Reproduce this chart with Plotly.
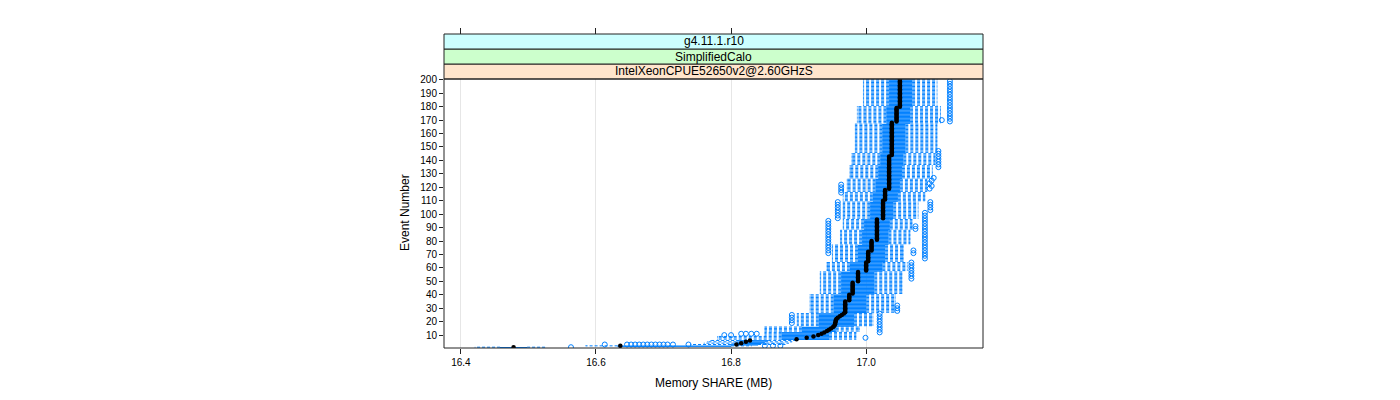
import plotly.graph_objects as go

# ---------------- data ----------------
events = list(range(1, 201))

lower_whisker = [
    16.421, 16.585, 16.740, 16.760, 16.765, 16.770, 16.780, 16.780, 16.780, 16.850,
    16.850, 16.850, 16.850, 16.850, 16.850, 16.850, 16.898, 16.898, 16.898, 16.898,
    16.898, 16.898, 16.898, 16.898, 16.898, 16.898, 16.917, 16.917, 16.917, 16.917,
    16.917, 16.917, 16.917, 16.917, 16.917, 16.917, 16.917, 16.917, 16.917, 16.917,
    16.932, 16.932, 16.932, 16.932, 16.932, 16.932, 16.932, 16.932, 16.932, 16.932,
    16.932, 16.932, 16.932, 16.932, 16.932, 16.932, 16.932, 16.942, 16.942, 16.942,
    16.942, 16.942, 16.942, 16.942, 16.950, 16.950, 16.950, 16.950, 16.950, 16.950,
    16.950, 16.950, 16.950, 16.950, 16.950, 16.950, 16.950, 16.962, 16.962, 16.962,
    16.962, 16.962, 16.962, 16.962, 16.962, 16.962, 16.962, 16.962, 16.966, 16.966,
    16.966, 16.966, 16.966, 16.966, 16.966, 16.966, 16.966, 16.966, 16.966, 16.966,
    16.966, 16.966, 16.966, 16.966, 16.966, 16.966, 16.966, 16.966, 16.966, 16.966,
    16.966, 16.966, 16.966, 16.966, 16.966, 16.966, 16.972, 16.972, 16.972, 16.972,
    16.972, 16.972, 16.972, 16.972, 16.972, 16.972, 16.976, 16.976, 16.976, 16.976,
    16.976, 16.976, 16.976, 16.976, 16.976, 16.976, 16.979, 16.979, 16.979, 16.979,
    16.979, 16.979, 16.979, 16.979, 16.979, 16.984, 16.984, 16.984, 16.984, 16.984,
    16.984, 16.984, 16.984, 16.984, 16.984, 16.984, 16.984, 16.984, 16.984, 16.984,
    16.984, 16.984, 16.984, 16.984, 16.984, 16.984, 16.984, 16.987, 16.987, 16.987,
    16.987, 16.987, 16.987, 16.987, 16.987, 16.987, 16.987, 16.987, 16.987, 16.987,
    16.996, 16.996, 16.996, 16.996, 16.996, 16.996, 16.996, 16.996, 16.996, 16.996,
    16.996, 16.996, 16.996, 16.996, 16.996, 16.996, 16.996, 16.996, 16.996, 16.996,
]

quartile1 = [
    16.458, 16.632, 16.800, 16.805, 16.808, 16.812, 16.875, 16.875, 16.875, 16.875,
    16.875, 16.875, 16.905, 16.905, 16.905, 16.905, 16.930, 16.930, 16.930, 16.930,
    16.930, 16.930, 16.930, 16.930, 16.930, 16.930, 16.952, 16.952, 16.952, 16.952,
    16.952, 16.952, 16.952, 16.952, 16.952, 16.952, 16.952, 16.952, 16.952, 16.952,
    16.963, 16.963, 16.963, 16.963, 16.963, 16.963, 16.963, 16.963, 16.963, 16.963,
    16.963, 16.963, 16.963, 16.963, 16.963, 16.963, 16.963, 16.976, 16.976, 16.976,
    16.976, 16.976, 16.976, 16.976, 16.988, 16.988, 16.988, 16.988, 16.988, 16.988,
    16.988, 16.988, 16.988, 16.988, 16.988, 16.988, 16.988, 16.994, 16.994, 16.994,
    16.994, 16.994, 16.994, 16.994, 16.994, 16.994, 16.994, 16.994, 16.997, 16.997,
    16.997, 16.997, 16.997, 16.997, 16.997, 16.997, 17.006, 17.006, 17.006, 17.006,
    17.006, 17.006, 17.006, 17.006, 17.006, 17.006, 17.006, 17.006, 17.006, 17.010,
    17.010, 17.010, 17.010, 17.010, 17.010, 17.010, 17.014, 17.014, 17.014, 17.014,
    17.014, 17.014, 17.014, 17.014, 17.014, 17.014, 17.018, 17.018, 17.018, 17.018,
    17.018, 17.018, 17.018, 17.018, 17.018, 17.018, 17.021, 17.021, 17.021, 17.021,
    17.021, 17.021, 17.021, 17.021, 17.021, 17.024, 17.024, 17.024, 17.024, 17.024,
    17.024, 17.024, 17.024, 17.024, 17.024, 17.024, 17.024, 17.024, 17.024, 17.024,
    17.024, 17.024, 17.024, 17.024, 17.024, 17.024, 17.024, 17.030, 17.030, 17.030,
    17.030, 17.030, 17.030, 17.030, 17.030, 17.030, 17.030, 17.030, 17.030, 17.030,
    17.034, 17.034, 17.034, 17.034, 17.034, 17.034, 17.034, 17.034, 17.034, 17.034,
    17.034, 17.034, 17.034, 17.034, 17.034, 17.034, 17.034, 17.034, 17.034, 17.034,
]

median = [
    16.478, 16.636, 16.808, 16.815, 16.822, 16.828, 16.897, 16.912, 16.922, 16.929,
    16.934, 16.938, 16.942, 16.945, 16.948, 16.951, 16.953, 16.954, 16.954, 16.955,
    16.955, 16.956, 16.958, 16.961, 16.964, 16.967, 16.969, 16.969, 16.969, 16.969,
    16.969, 16.969, 16.969, 16.969, 16.969, 16.975, 16.975, 16.975, 16.975, 16.975,
    16.980, 16.980, 16.980, 16.980, 16.980, 16.980, 16.980, 16.980, 16.980, 16.988,
    16.988, 16.988, 16.988, 16.988, 16.988, 16.988, 16.988, 17.000, 17.000, 17.000,
    17.000, 17.000, 17.000, 17.000, 17.003, 17.003, 17.003, 17.003, 17.003, 17.003,
    17.003, 17.003, 17.008, 17.008, 17.008, 17.008, 17.008, 17.008, 17.008, 17.008,
    17.016, 17.016, 17.016, 17.016, 17.016, 17.016, 17.016, 17.016, 17.016, 17.016,
    17.016, 17.016, 17.016, 17.016, 17.016, 17.016, 17.025, 17.025, 17.025, 17.025,
    17.025, 17.025, 17.025, 17.025, 17.025, 17.025, 17.025, 17.025, 17.025, 17.025,
    17.028, 17.028, 17.028, 17.028, 17.028, 17.028, 17.028, 17.028, 17.034, 17.034,
    17.034, 17.034, 17.034, 17.034, 17.034, 17.034, 17.034, 17.034, 17.034, 17.034,
    17.034, 17.034, 17.034, 17.034, 17.034, 17.034, 17.034, 17.034, 17.034, 17.034,
    17.034, 17.034, 17.034, 17.038, 17.038, 17.038, 17.038, 17.038, 17.038, 17.038,
    17.038, 17.038, 17.038, 17.038, 17.038, 17.038, 17.038, 17.038, 17.038, 17.038,
    17.038, 17.038, 17.038, 17.038, 17.038, 17.038, 17.038, 17.038, 17.045, 17.045,
    17.045, 17.045, 17.045, 17.045, 17.045, 17.045, 17.045, 17.045, 17.045, 17.050,
    17.050, 17.050, 17.050, 17.050, 17.050, 17.050, 17.050, 17.050, 17.050, 17.050,
    17.050, 17.050, 17.050, 17.050, 17.050, 17.050, 17.050, 17.050, 17.050, 17.050,
]

quartile3 = [
    16.498, 16.800, 16.840, 16.845, 16.850, 16.855, 16.945, 16.945, 16.945, 16.945,
    16.945, 16.945, 16.955, 16.955, 16.955, 16.955, 16.982, 16.982, 16.982, 16.982,
    16.982, 16.982, 16.982, 16.982, 16.982, 16.982, 17.000, 17.000, 17.000, 17.000,
    17.000, 17.000, 17.000, 17.000, 17.000, 17.000, 17.000, 17.000, 17.000, 17.000,
    17.012, 17.012, 17.012, 17.012, 17.012, 17.012, 17.012, 17.012, 17.012, 17.012,
    17.012, 17.012, 17.012, 17.012, 17.012, 17.012, 17.012, 17.024, 17.024, 17.024,
    17.024, 17.024, 17.024, 17.024, 17.028, 17.028, 17.028, 17.028, 17.028, 17.028,
    17.028, 17.028, 17.028, 17.028, 17.028, 17.028, 17.028, 17.033, 17.033, 17.033,
    17.033, 17.033, 17.033, 17.033, 17.033, 17.033, 17.033, 17.033, 17.035, 17.035,
    17.035, 17.035, 17.035, 17.035, 17.035, 17.035, 17.040, 17.040, 17.040, 17.040,
    17.040, 17.040, 17.040, 17.040, 17.040, 17.040, 17.040, 17.040, 17.040, 17.047,
    17.047, 17.047, 17.047, 17.047, 17.047, 17.047, 17.050, 17.050, 17.050, 17.050,
    17.050, 17.050, 17.050, 17.050, 17.050, 17.050, 17.053, 17.053, 17.053, 17.053,
    17.053, 17.053, 17.053, 17.053, 17.053, 17.053, 17.055, 17.055, 17.055, 17.055,
    17.055, 17.055, 17.055, 17.055, 17.055, 17.058, 17.058, 17.058, 17.058, 17.058,
    17.058, 17.058, 17.058, 17.058, 17.058, 17.058, 17.058, 17.058, 17.058, 17.058,
    17.058, 17.058, 17.058, 17.058, 17.058, 17.058, 17.058, 17.065, 17.065, 17.065,
    17.065, 17.065, 17.065, 17.065, 17.065, 17.065, 17.065, 17.065, 17.065, 17.065,
    17.068, 17.068, 17.068, 17.068, 17.068, 17.068, 17.068, 17.068, 17.068, 17.068,
    17.068, 17.068, 17.068, 17.068, 17.068, 17.068, 17.068, 17.068, 17.068, 17.068,
]

upper_whisker = [
    16.524, 16.830, 16.880, 16.885, 16.890, 16.895, 16.985, 16.985, 16.985, 16.985,
    16.985, 16.985, 16.990, 16.990, 16.990, 16.990, 17.010, 17.010, 17.010, 17.010,
    17.010, 17.010, 17.010, 17.010, 17.010, 17.010, 17.043, 17.043, 17.043, 17.043,
    17.043, 17.043, 17.043, 17.043, 17.043, 17.043, 17.043, 17.043, 17.043, 17.043,
    17.053, 17.053, 17.053, 17.053, 17.053, 17.053, 17.053, 17.053, 17.053, 17.053,
    17.053, 17.053, 17.053, 17.053, 17.053, 17.053, 17.053, 17.061, 17.061, 17.061,
    17.061, 17.061, 17.061, 17.061, 17.055, 17.055, 17.055, 17.055, 17.055, 17.055,
    17.055, 17.055, 17.055, 17.055, 17.055, 17.055, 17.055, 17.065, 17.065, 17.065,
    17.065, 17.065, 17.065, 17.065, 17.065, 17.065, 17.065, 17.065, 17.068, 17.068,
    17.068, 17.068, 17.068, 17.068, 17.068, 17.068, 17.077, 17.077, 17.077, 17.077,
    17.077, 17.077, 17.077, 17.077, 17.077, 17.077, 17.077, 17.077, 17.077, 17.087,
    17.087, 17.087, 17.087, 17.087, 17.087, 17.087, 17.090, 17.090, 17.090, 17.090,
    17.090, 17.090, 17.090, 17.090, 17.090, 17.090, 17.098, 17.098, 17.098, 17.098,
    17.098, 17.098, 17.098, 17.098, 17.098, 17.098, 17.102, 17.102, 17.102, 17.102,
    17.102, 17.102, 17.102, 17.102, 17.102, 17.105, 17.105, 17.105, 17.105, 17.105,
    17.105, 17.105, 17.105, 17.105, 17.105, 17.105, 17.105, 17.105, 17.105, 17.105,
    17.105, 17.105, 17.105, 17.105, 17.105, 17.105, 17.105, 17.110, 17.110, 17.110,
    17.110, 17.110, 17.110, 17.110, 17.110, 17.110, 17.110, 17.110, 17.110, 17.110,
    17.105, 17.105, 17.105, 17.105, 17.105, 17.105, 17.105, 17.105, 17.105, 17.105,
    17.105, 17.105, 17.105, 17.105, 17.105, 17.105, 17.105, 17.105, 17.105, 17.105,
]

# outliers: (event number, memory value)
outliers = [
    (1, 16.563),
    (2, 16.850), (2, 16.862), (2, 16.873),
    (3, 16.613), (3, 16.646), (3, 16.652), (3, 16.658), (3, 16.664), (3, 16.670),
    (3, 16.676), (3, 16.682), (3, 16.688), (3, 16.694), (3, 16.700), (3, 16.706),
    (3, 16.714), (3, 16.737),
    (8, 16.999), (10, 16.790), (10, 16.800),
    (11, 16.815), (11, 16.822), (11, 16.830), (11, 16.838),
    (12, 17.020), (14, 17.020), (16, 17.020), (18, 17.020), (20, 17.020),
    (22, 17.020), (24, 17.020), (26, 17.020),
    (19, 16.890), (21, 16.890), (23, 16.890), (25, 16.890),
    (28, 17.046), (30, 17.046), (32, 17.046),
    (52, 17.067), (54, 17.067), (56, 17.067), (58, 17.067), (60, 17.067),
    (62, 17.067), (64, 17.067),
    (71, 17.070), (73, 17.070), (89, 17.073), (91, 17.073),
    (67, 17.087), (69, 17.087), (71, 17.087), (73, 17.087), (75, 17.087),
    (77, 17.087), (79, 17.087), (81, 17.087), (83, 17.087), (85, 17.087),
    (87, 17.087), (89, 17.087), (91, 17.087), (93, 17.087), (95, 17.087),
    (97, 17.087), (99, 17.087), (101, 17.087),
    (71, 16.944), (73, 16.944), (75, 16.944), (77, 16.944), (79, 16.944),
    (81, 16.944), (83, 16.944), (85, 16.944), (87, 16.944), (89, 16.944),
    (91, 16.944), (93, 16.944), (95, 16.944),
    (97, 16.958), (99, 16.958), (101, 16.958), (103, 16.958), (105, 16.958),
    (107, 16.958), (109, 16.958),
    (103, 17.095), (105, 17.095), (107, 17.095), (109, 17.095),
    (116, 16.963), (118, 16.963), (120, 16.963), (122, 16.963),
    (119, 17.094), (121, 17.097), (123, 17.094), (125, 17.097), (127, 17.100),
    (135, 17.107), (137, 17.107), (139, 17.107), (141, 17.107), (143, 17.107),
    (145, 17.107), (147, 17.107),
    (170, 17.112),
    (169, 17.124), (171, 17.124), (173, 17.124), (175, 17.124), (177, 17.124),
    (179, 17.124), (181, 17.124), (183, 17.124), (185, 17.124), (187, 17.124),
    (189, 17.124), (191, 17.124), (193, 17.124), (195, 17.124), (197, 17.124),
    (199, 17.124),
]

x_ticks = [16.4, 16.6, 16.8, 17.0]
x_labels = ["16.4", "16.6", "16.8", "17.0"]
y_ticks = [10, 20, 30, 40, 50, 60, 70, 80, 90, 100,
           110, 120, 130, 140, 150, 160, 170, 180, 190, 200]
strip_labels = ["IntelXeonCPUE52650v2@2.60GHzS", "SimplifiedCalo", "g4.11.1.r10"]
strip_colors = ["#ffe5cc", "#ccffcc", "#ccffff"]

# ---------------- styling ----------------
BLUE = "#0080ff"
HALF = 0.25          # half box height in event units
FONT = "Liberation Sans, Arial, Helvetica, sans-serif"

# the page adds an 8px body margin, so margins are offset by 8px
PLOT_H = 400 - 26 - 60
DOM_TOP = 269 / PLOT_H
STRIP_H = 15 / PLOT_H

# ---------------- build paths ----------------
bx, by, wx, wy, cx, cy = [], [], [], [], [], []
for e, lo, a, b, hi in zip(events, lower_whisker, quartile1, quartile3, upper_whisker):
    bx += [a, b, b, a, a, None]
    by += [e - HALF, e - HALF, e + HALF, e + HALF, e - HALF, None]
    wx += [a, lo, None, b, hi, None]
    wy += [e, e, None, e, e, None]
    cx += [lo, lo, None, hi, hi, None]
    cy += [e - HALF, e + HALF, None, e - HALF, e + HALF, None]

ox = [v for _, v in outliers]
oy = [e for e, _ in outliers]

fig = go.Figure()
fig.add_trace(go.Scatter(x=wx, y=wy, mode="lines", hoverinfo="skip",
                         line=dict(color=BLUE, width=1, dash="3px,2px")))
fig.add_trace(go.Scatter(x=cx, y=cy, mode="lines", hoverinfo="skip",
                         line=dict(color=BLUE, width=1)))
fig.add_trace(go.Scatter(x=bx, y=by, mode="lines", hoverinfo="skip",
                         line=dict(color=BLUE, width=1)))
fig.add_trace(go.Scatter(x=ox, y=oy, mode="markers", hoverinfo="skip",
                         marker=dict(symbol="circle-open", size=5, color=BLUE,
                                     line=dict(width=1, color=BLUE))))
fig.add_trace(go.Scatter(x=median, y=events, mode="markers",
                         marker=dict(symbol="circle", size=4.5, color="black")))
# invisible trace so the top tick axis is drawn
fig.add_trace(go.Scatter(x=[x_ticks[0]], y=[y_ticks[0]], xaxis="x2", mode="markers",
                         marker=dict(opacity=0), hoverinfo="skip"))

shapes = []
annotations = []
for i, (lab, col) in enumerate(zip(strip_labels, strip_colors)):
    y0 = DOM_TOP + i * STRIP_H
    y1 = y0 + STRIP_H if i < 2 else 1.0
    shapes.append(dict(type="rect", xref="paper", yref="paper", x0=0, x1=1, y0=y0, y1=y1,
                       fillcolor=col, line=dict(color="#222222", width=1), layer="above"))
    annotations.append(dict(xref="paper", yref="paper", x=0.5, y=(y0 + y1) / 2, text=lab,
                            showarrow=False, xanchor="center", yanchor="middle",
                            font=dict(family=FONT, size=12, color="black")))
shapes.append(dict(type="rect", xref="paper", yref="paper", x0=0, x1=1, y0=0, y1=DOM_TOP,
                   line=dict(color="#222222", width=1), layer="above"))

annotations.append(dict(xref="paper", yref="paper", x=0.5, y=-35 / PLOT_H,
                        text="Memory SHARE (MB)", showarrow=False,
                        xanchor="center", yanchor="middle",
                        font=dict(family=FONT, size=12, color="black")))
annotations.append(dict(xref="paper", yref="paper", x=-39 / 539, y=(348 - 213) / PLOT_H,
                        text="Event Number", showarrow=False, textangle=-90,
                        xanchor="center", yanchor="middle",
                        font=dict(family=FONT, size=12, color="black")))

fig.update_layout(
    width=1400, height=400,
    margin=dict(l=436, r=425, t=26, b=60, pad=0),
    paper_bgcolor="white", plot_bgcolor="white",
    showlegend=False,
    font=dict(family=FONT, size=10, color="black"),
    xaxis=dict(range=[16.375, 17.173], tickvals=x_ticks, ticktext=x_labels,
               ticks="outside", ticklen=5, tickwidth=1, tickcolor="#222222",
               showgrid=True, gridcolor="#e6e6e6", gridwidth=1,
               zeroline=False, showline=False, tickfont=dict(size=10)),
    xaxis2=dict(range=[16.375, 17.173], overlaying="x", side="top", anchor="free",
                position=1, tickvals=x_ticks, ticks="outside", ticklen=6, tickwidth=1,
                tickcolor="#222222", showticklabels=False, showgrid=False,
                zeroline=False, showline=False),
    yaxis=dict(domain=[0, DOM_TOP], range=[0.4, 200.6], tickvals=y_ticks,
               ticks="outside", ticklen=4, tickwidth=1, tickcolor="#222222",
               showgrid=False, zeroline=False, showline=False, tickfont=dict(size=10)),
    shapes=shapes,
    annotations=annotations,
)

fig.write_html("out.html")
